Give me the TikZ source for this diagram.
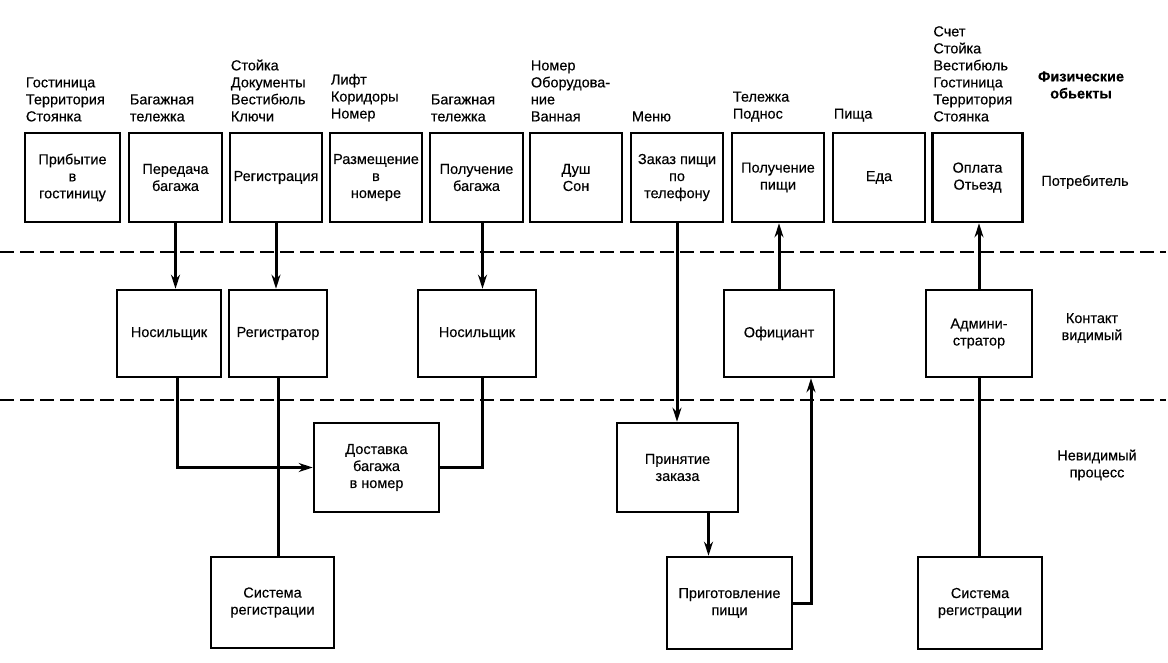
\documentclass[tikz,border=0pt]{standalone}
\usepackage{fontspec}
\setmainfont{Liberation Sans}[FakeBold=0.3]
\usepackage{tikz}
\usetikzlibrary{arrows.meta}

\tikzset{
  blk/.style={draw, line width=2.6pt, align=center, inner sep=1pt, minimum height=89pt},
  lbl/.style={anchor=south west, align=left, inner sep=0pt, xshift=2pt, yshift=10pt},
  lnk/.style={line width=3pt},
  arr/.style={line width=3pt, -{Stealth[length=14pt,width=9pt]}},
  sep/.style={line width=1.8pt, dash pattern=on 14pt off 6pt}
}

\begin{document}
\begin{tikzpicture}[x=1pt, y=-1pt, font=\fontsize{14.5}{17}\selectfont]
 \useasboundingbox (0,0) rectangle (1168,663);

 % zones
 \draw[sep] (0,252)--(1166,252);
 \draw[sep] (0,400)--(1166,400);

 % consumer row
 \node[blk, minimum width=95pt] (arr)   at (72.5,177.5) {Прибытие\\в\\гостиницу};
 \node[blk, minimum width=93pt] (pered) at (175.5,177.5) {Передача\\багажа};
 \node[blk, minimum width=92pt] (reg)   at (276,177.5) {Регистрация};
 \node[blk, minimum width=92pt] (razm)  at (376,177.5) {Размещение\\в\\номере};
 \node[blk, minimum width=93pt] (polb)  at (476.5,177.5) {Получение\\багажа};
 \node[blk, minimum width=92pt] (dush)  at (576,177.5) {Душ\\Сон};
 \node[blk, minimum width=92pt] (zakaz) at (677,177.5) {Заказ пищи\\по\\телефону};
 \node[blk, minimum width=92pt] (polp)  at (778,177.5) {Получение\\пищи};
 \node[blk, minimum width=92pt] (eda)   at (879,177.5) {Еда};
 \node[blk, minimum width=90pt] (opl)   at (977.5,177.5) {Оплата\\Отьезд};

 % physical objects
 \node[lbl] (ob1) at (arr.north west) {Гостиница\\Территория\\Стоянка};
 \node[lbl] (ob2) at (pered.north west) {Багажная\\тележка};
 \node[lbl] (ob3) at (reg.north west) {Стойка\\Документы\\Вестибюль\\Ключи};
 \node[lbl] (ob4) at (razm.north west) {Лифт\\Коридоры\\Номер};
 \node[lbl] (ob5) at (polb.north west) {Багажная\\тележка};
 \node[lbl] (ob6) at (dush.north west) {Номер\\Оборудова-\\ние\\Ванная};
 \node[lbl] (ob7) at (zakaz.north west) {Меню};
 \node[lbl] (ob8) at (polp.north west) {Тележка\\Поднос};
 \node[lbl] (ob9) at (eda.north west) {Пища};
 \node[lbl] (ob10) at (opl.north west) {Счет\\Стойка\\Вестибюль\\Гостиница\\Территория\\Стоянка};

 % visible contact
 \node[blk, minimum width=104pt, minimum height=87pt] (nos1) at (169,333.5) {Носильщик};
 \node[blk, minimum width=98pt, minimum height=87pt]  (regr) at (278,333.5) {Регистратор};
 \node[blk, minimum width=118pt, minimum height=87pt] (nos2) at (477,333.5) {Носильщик};
 \node[blk, minimum width=110pt, minimum height=87pt] (ofic) at (779,333.5) {Официант};
 \node[blk, minimum width=106pt, minimum height=87pt] (adm)  at (979,333.5) {Админи-\\стратор};

 % invisible process
 \node[blk, minimum width=125pt] (dost) at (376.5,467.5) {Доставка\\багажа\\в номер};
 \node[blk, minimum width=121pt] (prin) at (677.5,467.5) {Принятие\\заказа};
 \node[blk, minimum width=123pt, minimum height=91pt] (sys1) at (272.5,602.5) {Система\\регистрации};
 \node[blk, minimum width=125pt, minimum height=92pt] (prig) at (729.5,603) {Приготовление\\пищи};
 \node[blk, minimum width=124pt, minimum height=92pt] (sys2) at (980,603) {Система\\регистрации};

 % side captions
 \node[font=\fontsize{14.5}{17}\selectfont\bfseries, align=center] (phys) at (1081,85) {Физические\\обьекты};
 \node (cons) at (1085,182) {Потребитель};
 \node[align=center] (vis) at (1092,328) {Контакт\\видимый};
 \node[align=center] (inv) at (1097,465) {Невидимый\\процесс};

 % links
 \draw[arr] (pered.south) -- (pered.south |- nos1.north);
 \draw[arr] (reg.south) -- (reg.south |- regr.north);
 \draw[arr] ([xshift=6pt]polb.south) -- ([xshift=6pt]polb.south |- nos2.north);
 \draw[arr] (zakaz.south) -- (zakaz.south |- prin.north);
 \draw[arr] (ofic.north) -- (ofic.north |- polp.south);
 \draw[arr] (adm.north) -- (adm.north |- opl.south);
 \draw[lnk] (adm.south) -- (adm.south |- sys2.north);
 \draw[arr] ([xshift=8pt]nos1.south) |- (dost.west);
 \draw[lnk] ([xshift=5pt]nos2.south) |- (dost.east);
 \draw[lnk] (regr.south) -- (regr.south |- sys1.north);
 \draw[arr] ([xshift=31pt]prin.south) -- ([xshift=31pt]prin.south |- prig.north);
 \draw[arr] (prig.east) -| ([xshift=32pt]ofic.south);

\end{tikzpicture}
\end{document}
